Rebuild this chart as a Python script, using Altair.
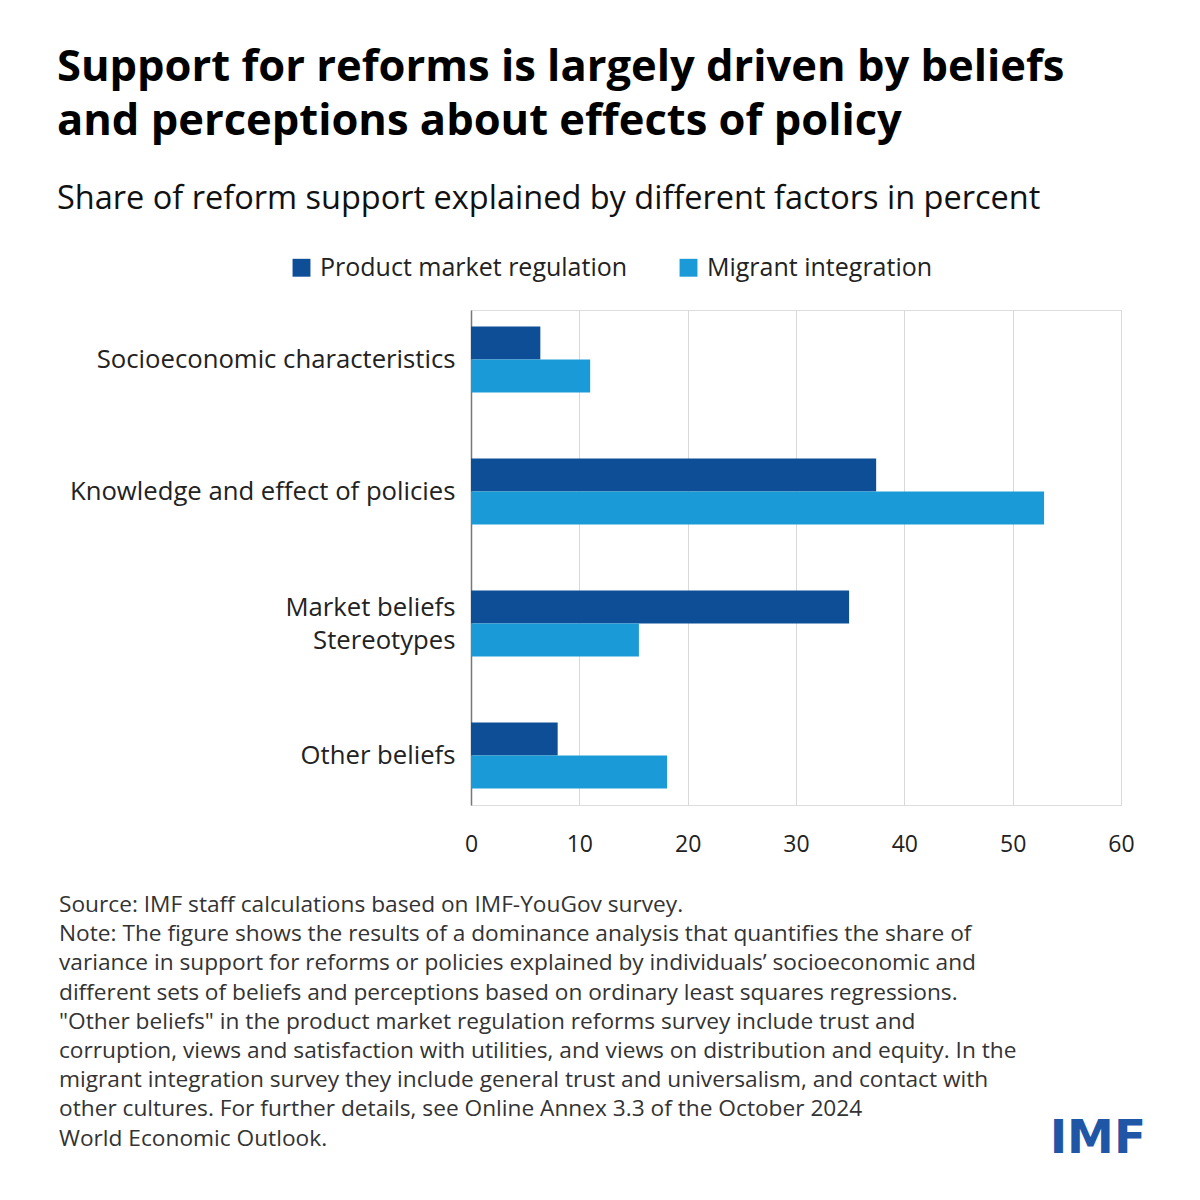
import altair as alt
import pandas as pd

categories = ["Socioeconomic characteristics", "Knowledge and effect of policies",
              "Market beliefs\nStereotypes", "Other beliefs"]
series = ["Product market regulation", "Migrant integration"]
pmr_values = [6.4, 37.4, 34.9, 8.0]
mi_values = [11.0, 52.9, 15.5, 18.1]
x_ticks = [0, 10, 20, 30, 40, 50, 60]
colors = ["#0d4e97", "#1a9bd7"]

title_lines = ["Support for reforms is largely driven by beliefs",
               "and perceptions about effects of policy"]
subtitle = "Share of reform support explained by different factors in percent"
note_lines = [
    "Source: IMF staff calculations based on IMF-YouGov survey.",
    "Note: The figure shows the results of a dominance analysis that quantifies the share of",
    "variance in support for reforms or policies explained by individuals\u2019 socioeconomic and",
    "different sets of beliefs and perceptions based on ordinary least squares regressions.",
    "\"Other beliefs\" in the product market regulation reforms survey include trust and",
    "corruption, views and satisfaction with utilities, and views on distribution and equity. In the",
    "migrant integration survey they include general trust and universalism, and contact with",
    "other cultures. For further details, see Online Annex 3.3 of the October 2024",
    "World Economic Outlook.",
]

rows = []
for c, p, m in zip(categories, pmr_values, mi_values):
    rows.append({"category": c, "series": series[0], "value": p})
    rows.append({"category": c, "series": series[1], "value": m})
df = pd.DataFrame(rows)

FONT = "Open Sans"

bars = alt.Chart(df).mark_bar(height={"band": 1}).encode(
    y=alt.Y("category:N", sort=categories,
            scale=alt.Scale(paddingInner=0.5, paddingOuter=0.125),
            axis=alt.Axis(title=None, labelExpr="split(datum.label, '\\n')",
                          labelFontSize=25.7, labelColor="#222222", labelFont=FONT,
                          labelPadding=16, ticks=False, grid=False, domainColor="#777777",
                          domainWidth=1.5, labelLineHeight=33, labelLimit=0,
                          labelOffset={"condition": {"test": "indexof(datum.label, 'Stereotypes') >= 0",
                                                     "value": -16},
                                       "value": 0})),
    yOffset=alt.YOffset("series:N", sort=series),
    x=alt.X("value:Q", scale=alt.Scale(domain=[0, 60]),
            axis=alt.Axis(title=None, values=x_ticks, grid=True, gridColor="#d9d9d9",
                          gridWidth=1, domain=False, ticks=False, labelFontSize=23,
                          labelColor="#222222", labelFont=FONT, labelPadding=28,
                          labelFlush=False)),
    color=alt.Color("series:N", sort=series,
                    scale=alt.Scale(domain=series, range=colors),
                    legend=alt.Legend(title=None, orient="none", direction="horizontal",
                                      legendX=-182, legendY=-55, symbolType="square",
                                      symbolSize=320, symbolStrokeWidth=0,
                                      labelFontSize=25, labelFont=FONT, labelLimit=0,
                                      labelColor="#222222", columnPadding=48,
                                      labelOffset=6)),
)

notes = alt.Chart(pd.DataFrame({"t": [0]})).mark_text(
    text=note_lines, align="left", baseline="middle", fontSize=22.7, font=FONT,
    color="#333333", lineHeight=29.2
).encode(x=alt.value(-412), y=alt.value(595))

logo = alt.Chart(pd.DataFrame({"t": [0]})).mark_text(
    text="IMF", align="right", baseline="alphabetic", fontSize=47, font="DejaVu Sans",
    fontWeight="bold", color="#1f56a6"
).encode(x=alt.value(675), y=alt.value(843))

chart = alt.layer(bars, notes, logo).properties(
    width=650, height=495,
    padding={"left": 463, "top": 302, "right": 70, "bottom": 380},
    autosize=alt.AutoSizeParams(type="none"),
    title=alt.TitleParams(
        text=title_lines, subtitle=subtitle, anchor="start", frame="group",
        font=FONT, fontSize=43.5, fontWeight="bold", color="#000000", lineHeight=54,
        subtitleFont=FONT, subtitleFontSize=32.5, subtitleColor="#111111",
        subtitlePadding=38, dx=-414, dy=31, offset=70,
    ),
).configure_view(strokeWidth=0, stroke=None, strokeOpacity=0).configure_axisX(
    domain=False
).configure(background="white")

chart.save("out.html", embed_options={"renderer": "svg", "actions": False})
